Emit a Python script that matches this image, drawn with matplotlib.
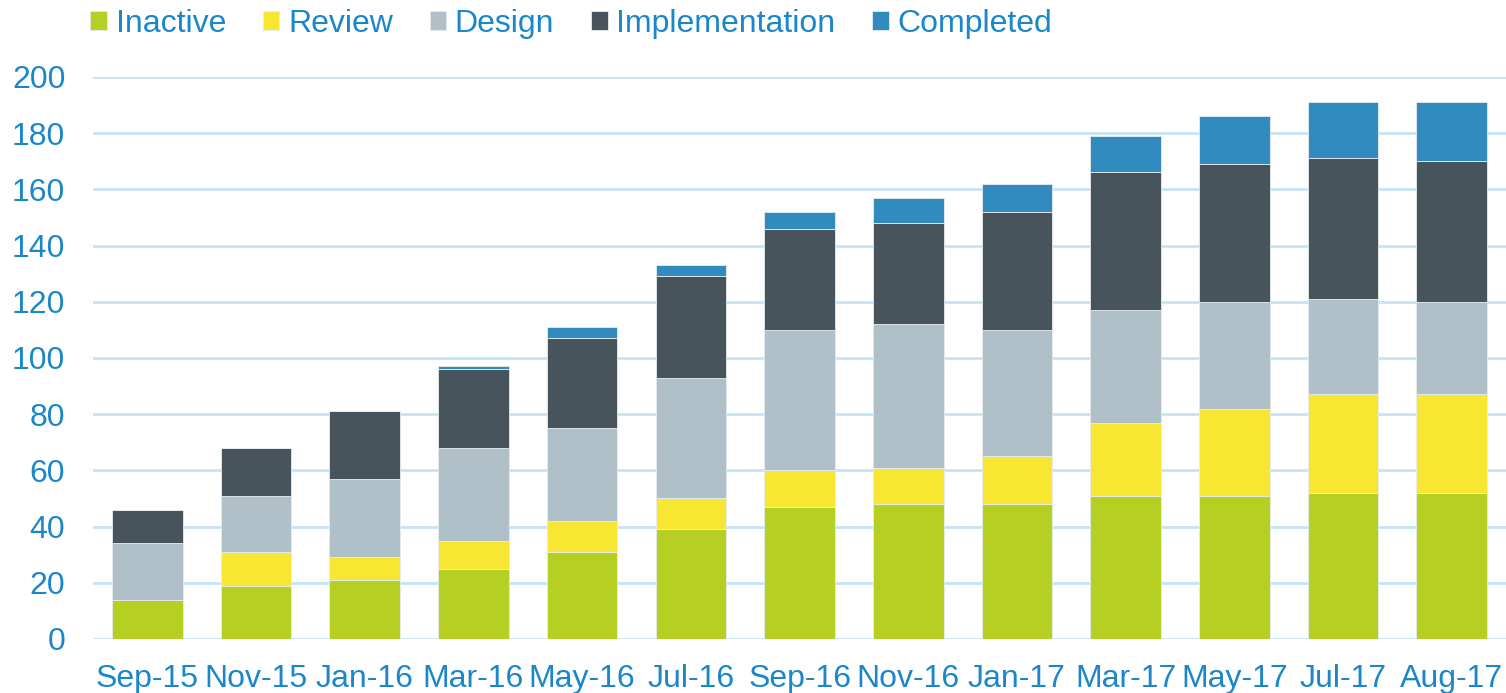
import numpy as np
import matplotlib.pyplot as plt

# months on the x axis
months = ["Sep-15", "Nov-15", "Jan-16", "Mar-16", "May-16", "Jul-16", "Sep-16",
          "Nov-16", "Jan-17", "Mar-17", "May-17", "Jul-17", "Aug-17"]

# segment sizes per status
inactive = [14, 19, 21, 25, 31, 39, 47, 48, 48, 51, 51, 52, 52]
review = [0, 12, 8, 10, 11, 11, 13, 13, 17, 26, 31, 35, 35]
design = [20, 20, 28, 33, 33, 43, 50, 51, 45, 40, 38, 34, 33]
implementation = [12, 17, 24, 28, 32, 36, 36, 36, 42, 49, 49, 50, 50]
completed = [0, 0, 0, 1, 4, 4, 6, 9, 10, 13, 17, 20, 21]

series = [
    ("Inactive", inactive, "#B5D022"),
    ("Review", review, "#F7E732"),
    ("Design", design, "#B0C0C8"),
    ("Implementation", implementation, "#48545C"),
    ("Completed", completed, "#318BBF"),
]

TEXT_COLOR = "#1B87C9"
GRID_COLOR = "#C5E5F7"
FS = 23

plt.rcParams['font.family'] = ['Liberation Sans', 'DejaVu Sans']

fig = plt.figure(figsize=(15.06, 6.93), dpi=100)
ax = fig.add_axes([0.0618, 0.078, 0.9382, 0.811])

x = np.arange(len(months))
bottom = np.zeros(len(months))
handles = []
for name, vals, col in series:
    vals = np.array(vals, dtype=float)
    b = ax.bar(x, vals, 0.65, bottom=bottom, color=col, edgecolor="#E6ECEF",
               linewidth=0.6, label=name, zorder=3)
    handles.append(b)
    bottom += vals

ax.set_xlim(-0.5, len(months) - 0.5)
ax.set_ylim(0, 200)
ax.set_yticks(np.arange(0, 201, 20))
ax.set_xticks(x)
ax.set_xticklabels(months)

for s in ax.spines.values():
    s.set_visible(False)
ax.yaxis.grid(True, color=GRID_COLOR, linewidth=2.0, zorder=0)
ax.tick_params(axis='both', length=0, labelsize=FS, colors=TEXT_COLOR)
ax.tick_params(axis='y', pad=20)
ax.tick_params(axis='x', pad=18)
for lab in ax.get_yticklabels() + ax.get_xticklabels():
    lab.set_clip_on(False)

leg = fig.legend(handles=handles, loc='center left', bbox_to_anchor=(0.06, 0.966),
                 ncol=5, frameon=False, fontsize=FS, handlelength=0.52,
                 handleheight=0.52, handletextpad=0.27, columnspacing=1.15,
                 borderaxespad=0, borderpad=0)
for t in leg.get_texts():
    t.set_color(TEXT_COLOR)

fig.savefig("out.png", dpi=100)
